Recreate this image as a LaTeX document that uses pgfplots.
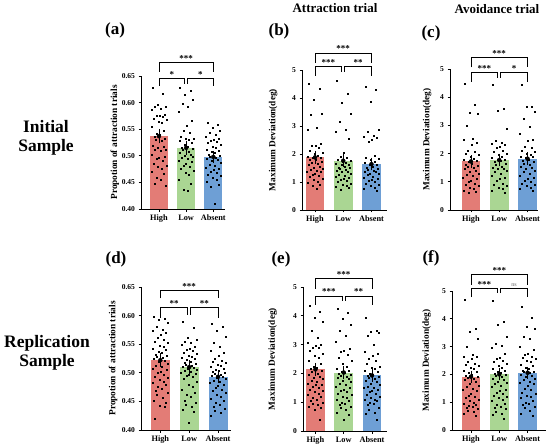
\documentclass[border=0pt]{standalone}
\usepackage{pgfplots}
\usepackage{pgfplotstable}
\pgfplotsset{compat=1.18}
\usepackage{fontspec}
\setmainfont{Liberation Serif}
\definecolor{cR}{HTML}{E37C76}
\definecolor{cG}{HTML}{AAD693}
\definecolor{cB}{HTML}{6E9FD5}

\pgfplotsset{
 panel/.style={
  scale only axis,
  axis x line*=bottom, axis y line*=left,
  axis line style={-, line width=0.9pt, black},
  tick style={black, line width=0.8pt},
  tick align=outside,
  major tick length=2.5pt,
  xtick={0,1,2}, xticklabels={High,Low,Absent},
  ticklabel style={font=\bfseries\fontsize{7.5}{9}\selectfont},
  x tick label style={font=\bfseries\fontsize{8.3}{9}\selectfont},
  ylabel style={font=\bfseries\fontsize{9.3}{10}\selectfont, anchor=center},
  /pgf/number format/assume math mode=true,
  clip mode=individual,
 },
 prop/.style={ymin=0.40, ymax=0.65, ytick={0.40,0.45,0.50,0.55,0.60,0.65},
  yticklabel style={/pgf/number format/.cd, fixed, fixed zerofill, precision=2},
  ylabel={Propotion of attraction trials}},
 dev/.style={ymin=0, ymax=5, ytick={0,1,2,3,4,5}, ylabel={Maximum Deviation(deg)}},
 pts/.style={only marks, mark=square*, mark size=0.5pt, black},
 err/.style={only marks, mark=none, black, forget plot,
  error bars/.cd, y dir=both, y explicit,
  error bar style={black, line width=0.8pt},
  error mark options={black, line width=0.8pt, mark size=3pt}},
}
\newcommand{\brk}[5]{\draw[line width=0.8pt] ([yshift=-#4]axis cs:#1,#3) -- (axis cs:#1,#3) -- (axis cs:#2,#3) -- ([yshift=-#5]axis cs:#2,#3);}
\newcommand{\lab}[3]{\node[anchor=base, font=\bfseries\fontsize{9}{9}\selectfont, inner sep=0pt, yshift=1.2pt] at (axis cs:#1,#2) {#3};}
\newcommand{\bars}[3]{%
 \addplot[ybar, bar width=0.66, bar shift=0pt, fill=cR, draw=none] coordinates {(0,#1)};
 \addplot[ybar, bar width=0.66, bar shift=0pt, fill=cG, draw=none] coordinates {(1,#2)};
 \addplot[ybar, bar width=0.66, bar shift=0pt, fill=cB, draw=none] coordinates {(2,#3)};
}

\pgfplotstableread{
dx hi lo ab
-0.22 0.628 0.628 0.563
0.15 0.617 0.622 0.558
-0.04 0.596 0.615 0.552
0.25 0.593 0.605 0.548
-0.14 0.592 0.598 0.544
0.07 0.589 0.593 0.540
-0.27 0.587 0.582 0.536
0.20 0.577 0.566 0.533
0.01 0.576 0.556 0.531
-0.10 0.575 0.548 0.529
0.13 0.573 0.543 0.527
-0.19 0.570 0.536 0.524
0.27 0.567 0.533 0.521
-0.02 0.565 0.532 0.518
0.10 0.563 0.530 0.515
-0.25 0.555 0.528 0.512
0.19 0.547 0.524 0.510
-0.07 0.542 0.520 0.508
0.04 0.540 0.518 0.505
-0.17 0.536 0.515 0.503
0.23 0.533 0.513 0.501
-0.12 0.530 0.511 0.499
0.09 0.528 0.508 0.497
-0.23 0.519 0.505 0.495
0.16 0.517 0.503 0.492
-0.05 0.515 0.500 0.490
0.26 0.512 0.498 0.487
-0.15 0.511 0.496 0.484
0.06 0.509 0.494 0.481
-0.28 0.502 0.491 0.478
0.21 0.499 0.488 0.476
0.00 0.497 0.485 0.473
-0.09 0.494 0.482 0.470
0.12 0.490 0.480 0.468
-0.20 0.485 0.476 0.465
0.27 0.481 0.472 0.462
-0.03 0.479 0.468 0.458
0.11 0.476 0.465 0.455
-0.26 0.470 0.455 0.452
0.18 0.466 0.447 0.445
-0.08 0.458 0.437 0.442
0.05 0.455 0.435 0.410
-0.16 0.447 nan nan
0.24 0.443 nan nan
}\tA

\pgfplotstableread{
dx hi lo ab
-0.22 4.50 4.62 4.40
0.15 4.33 4.15 4.30
-0.04 3.93 3.82 3.88
0.25 3.45 3.45 2.85
-0.14 3.42 3.15 2.80
0.07 2.93 2.85 2.65
-0.27 2.88 2.80 2.62
0.20 2.35 2.55 2.58
0.01 2.30 2.05 2.52
-0.10 2.28 1.90 2.45
0.13 2.22 1.85 1.95
-0.19 2.10 1.80 1.88
0.27 2.05 1.75 1.82
-0.02 2.00 1.72 1.78
0.10 1.95 1.68 1.72
-0.25 1.92 1.65 1.68
0.19 1.88 1.62 1.62
-0.07 1.85 1.60 1.60
0.04 1.80 1.55 1.55
-0.17 1.78 1.52 1.52
0.23 1.72 1.50 1.48
-0.12 1.68 1.48 1.45
0.09 1.65 1.45 1.40
-0.23 1.60 1.40 1.38
0.16 1.55 1.38 1.35
-0.05 1.52 1.35 1.30
0.26 1.48 1.30 1.28
-0.15 1.45 1.25 1.25
0.06 1.42 1.22 1.20
-0.28 1.38 1.20 1.15
0.21 1.35 1.15 1.12
0.00 1.30 1.12 1.08
-0.09 1.25 1.08 1.05
0.12 1.22 1.05 1.00
-0.20 1.18 1.00 0.95
0.27 1.12 0.95 0.90
-0.03 1.08 0.92 0.85
0.11 1.02 0.88 0.80
-0.26 0.98 0.82 0.75
0.18 0.92 0.78 0.70
-0.08 0.85 0.72 nan
0.05 0.75 nan nan
}\tB

\pgfplotstableread{
dx hi lo ab
-0.22 4.48 4.45 4.45
0.15 3.75 3.60 3.65
-0.04 3.45 3.52 3.65
0.25 3.40 2.90 3.48
-0.14 3.00 2.45 3.25
0.07 2.52 2.40 2.95
-0.27 2.48 2.35 2.70
0.20 2.38 2.30 2.50
0.01 2.30 2.25 2.45
-0.10 2.10 2.20 2.25
0.13 2.05 2.10 2.20
-0.19 2.00 2.05 2.10
0.27 1.95 2.00 2.05
-0.02 1.88 1.95 2.00
0.10 1.82 1.90 1.95
-0.25 1.78 1.85 1.90
0.19 1.75 1.80 1.88
-0.07 1.70 1.78 1.85
0.04 1.65 1.75 1.80
-0.17 1.62 1.70 1.75
0.23 1.58 1.65 1.70
-0.12 1.55 1.60 1.65
0.09 1.50 1.55 1.60
-0.23 1.45 1.50 1.55
0.16 1.40 1.48 1.50
-0.05 1.35 1.45 1.45
0.26 1.30 1.40 1.40
-0.15 1.25 1.35 1.35
0.06 1.20 1.30 1.30
-0.28 1.15 1.20 1.20
0.21 1.10 1.15 1.15
0.00 1.05 1.10 1.10
-0.09 1.00 1.05 1.05
0.12 0.95 0.95 1.00
-0.20 0.90 0.90 0.95
0.27 0.85 0.85 0.90
-0.03 0.80 0.80 0.85
0.11 0.75 0.75 0.80
-0.26 0.70 0.70 0.75
0.18 0.65 0.62 0.70
-0.08 0.62 nan nan
}\tC

\pgfplotstableread{
dx hi lo ab
-0.22 0.598 0.590 0.585
0.15 0.595 0.578 0.580
-0.04 0.592 0.562 0.574
0.25 0.588 0.558 0.563
-0.14 0.580 0.555 0.552
0.07 0.575 0.552 0.545
-0.27 0.573 0.549 0.538
0.20 0.570 0.546 0.535
0.01 0.566 0.543 0.530
-0.10 0.562 0.540 0.525
0.13 0.558 0.538 0.522
-0.19 0.555 0.535 0.520
0.27 0.552 0.533 0.518
-0.02 0.548 0.530 0.515
0.10 0.545 0.528 0.512
-0.25 0.542 0.527 0.510
0.19 0.540 0.525 0.508
-0.07 0.537 0.523 0.505
0.04 0.535 0.520 0.503
-0.17 0.532 0.518 0.502
0.23 0.530 0.516 0.500
-0.12 0.528 0.515 0.499
0.09 0.526 0.513 0.497
-0.23 0.524 0.511 0.495
0.16 0.521 0.509 0.493
-0.05 0.519 0.508 0.491
0.26 0.516 0.506 0.489
-0.15 0.513 0.504 0.487
0.06 0.510 0.502 0.485
-0.28 0.508 0.500 0.482
0.21 0.505 0.498 0.480
0.00 0.502 0.496 0.477
-0.09 0.500 0.495 0.474
0.12 0.497 0.493 0.471
-0.20 0.494 0.490 0.468
0.27 0.491 0.485 0.465
-0.03 0.488 0.480 0.462
0.11 0.485 0.475 0.458
-0.26 0.482 0.470 0.455
0.18 0.479 0.466 0.452
-0.08 0.476 0.462 0.448
0.05 0.472 0.458 0.445
-0.16 0.468 0.452 0.441
0.24 0.465 0.448 0.438
-0.11 0.461 0.445 0.434
0.08 0.456 0.440 0.430
-0.24 0.452 0.435 0.425
0.17 0.448 0.432 nan
-0.01 0.443 0.413 nan
0.14 0.440 nan nan
-0.18 0.420 nan nan
}\tD

\pgfplotstableread{
dx hi lo ab
-0.22 4.35 4.25 3.92
0.15 4.15 4.10 3.50
-0.04 3.95 3.90 3.45
0.25 3.80 3.70 3.40
-0.14 3.50 3.50 3.30
0.07 3.25 3.30 3.00
-0.27 3.05 3.10 2.75
0.20 3.00 2.85 2.70
0.01 2.95 2.80 2.60
-0.10 2.90 2.75 2.50
0.13 2.88 2.65 2.45
-0.19 2.80 2.55 2.35
0.27 2.70 2.45 2.25
-0.02 2.60 2.35 2.20
0.10 2.55 2.25 2.15
-0.25 2.45 2.15 2.10
0.19 2.35 2.10 2.05
-0.07 2.25 2.05 2.00
0.04 2.20 2.02 1.95
-0.17 2.15 2.00 1.92
0.23 2.10 1.95 1.90
-0.12 2.05 1.92 1.85
0.09 2.00 1.90 1.80
-0.23 1.95 1.85 1.75
0.16 1.90 1.80 1.70
-0.05 1.85 1.75 1.65
0.26 1.80 1.70 1.60
-0.15 1.75 1.65 1.55
0.06 1.70 1.60 1.52
-0.28 1.65 1.55 1.50
0.21 1.62 1.50 1.45
0.00 1.60 1.45 1.40
-0.09 1.55 1.40 1.35
0.12 1.50 1.35 1.30
-0.20 1.45 1.30 1.25
0.27 1.40 1.25 1.20
-0.03 1.35 1.20 1.15
0.11 1.30 1.15 1.10
-0.26 1.25 1.10 1.08
0.18 1.20 1.05 1.05
-0.08 1.15 1.00 1.00
0.05 1.10 0.95 0.95
-0.16 1.05 0.90 0.90
0.24 1.00 0.85 0.80
-0.11 0.95 0.80 0.75
0.08 0.90 0.75 0.65
-0.24 0.85 0.65 0.60
0.17 0.80 0.55 0.40
-0.01 0.75 0.40 nan
0.14 0.40 nan nan
}\tE

\pgfplotstableread{
dx hi lo ab
-0.22 4.70 4.65 4.45
0.15 3.65 3.90 4.05
-0.04 3.55 3.78 3.70
0.25 3.30 3.35 3.65
-0.14 3.00 3.10 3.35
0.07 2.70 3.05 3.30
-0.27 2.65 2.95 3.00
0.20 2.62 2.75 2.90
0.01 2.55 2.60 2.75
-0.10 2.45 2.55 2.70
0.13 2.40 2.50 2.65
-0.19 2.35 2.45 2.60
0.27 2.30 2.40 2.55
-0.02 2.25 2.30 2.50
0.10 2.20 2.25 2.45
-0.25 2.15 2.20 2.35
0.19 2.10 2.15 2.30
-0.07 2.05 2.10 2.25
0.04 2.00 2.05 2.20
-0.17 1.95 2.02 2.15
0.23 1.90 2.00 2.10
-0.12 1.88 1.95 2.08
0.09 1.85 1.90 2.05
-0.23 1.80 1.85 2.00
0.16 1.72 1.80 1.95
-0.05 1.65 1.75 1.90
0.26 1.60 1.70 1.85
-0.15 1.55 1.65 1.80
0.06 1.50 1.60 1.75
-0.28 1.45 1.55 1.70
0.21 1.40 1.45 1.65
0.00 1.30 1.40 1.60
-0.09 1.25 1.35 1.50
0.12 1.20 1.30 1.45
-0.20 1.15 1.25 1.35
0.27 1.10 1.20 1.30
-0.03 1.05 1.15 1.25
0.11 1.00 1.10 1.20
-0.26 0.95 1.05 1.15
0.18 0.90 0.95 1.05
-0.08 0.88 0.90 1.00
0.05 0.85 0.85 0.95
-0.16 0.80 0.80 0.90
0.24 0.75 0.75 0.85
-0.11 0.70 0.65 0.80
0.08 0.65 0.60 0.70
-0.24 0.60 0.55 0.60
0.17 0.50 0.40 0.50
}\tF

\begin{document}
\begin{tikzpicture}[x=1pt,y=1pt]
\path[use as bounding box] (0,0) rectangle (550,448);

% ---------- (a)
\begin{axis}[panel, prop, at={(141pt,239pt)}, anchor=south west, width=84pt, height=133pt,
  xmin=-0.66, xmax=2.43, ylabel style={at={(axis description cs:-0.31,0.5)}}]
\bars{0.537}{0.515}{0.498}
\addplot[pts] table[x expr=\thisrow{dx}+0, y=hi] {\tA};
\addplot[pts] table[x expr=\thisrow{dx}+1, y=lo] {\tA};
\addplot[pts] table[x expr=\thisrow{dx}+2, y=ab] {\tA};
\addplot[err] coordinates {(0,0.537) +- (0,0.008) (1,0.515) +- (0,0.008) (2,0.498) +- (0,0.006)};
\brk{0}{2}{0.675}{9pt}{9pt}\lab{1}{0.675}{***}
\brk{0}{0.95}{0.645}{7pt}{5pt}\lab{0.475}{0.645}{*}
\brk{1.05}{2}{0.645}{5pt}{7pt}\lab{1.525}{0.645}{*}
\end{axis}

% ---------- (b)
\begin{axis}[panel, dev, at={(302pt,238pt)}, anchor=south west, width=85pt, height=140pt,
  xmin=-0.46, xmax=2.55, ylabel style={at={(axis description cs:-0.34,0.5)}}]
\bars{1.88}{1.76}{1.64}
\addplot[pts] table[x expr=\thisrow{dx}+0, y=hi] {\tB};
\addplot[pts] table[x expr=\thisrow{dx}+1, y=lo] {\tB};
\addplot[pts] table[x expr=\thisrow{dx}+2, y=ab] {\tB};
\addplot[err] coordinates {(0,1.88) +- (0,0.13) (1,1.76) +- (0,0.12) (2,1.64) +- (0,0.12)};
\brk{0}{2}{5.6}{10pt}{10pt}\lab{1}{5.6}{***}
\brk{0}{0.95}{5.12}{9pt}{5pt}\lab{0.475}{5.12}{***}
\brk{1.05}{2}{5.12}{5pt}{9pt}\lab{1.525}{5.12}{**}
\end{axis}

% ---------- (c)
\begin{axis}[panel, dev, at={(450pt,238pt)}, anchor=south west, width=88pt, height=141pt,
  xmin=-0.74, xmax=2.37, ylabel style={at={(axis description cs:-0.26,0.5)}}]
\bars{1.72}{1.77}{1.82}
\addplot[pts] table[x expr=\thisrow{dx}+0, y=hi] {\tC};
\addplot[pts] table[x expr=\thisrow{dx}+1, y=lo] {\tC};
\addplot[pts] table[x expr=\thisrow{dx}+2, y=ab] {\tC};
\addplot[err] coordinates {(0,1.72) +- (0,0.12) (1,1.77) +- (0,0.12) (2,1.82) +- (0,0.12)};
\brk{0}{2}{5.41}{10pt}{10pt}\lab{1}{5.41}{***}
\brk{0}{0.95}{4.87}{9pt}{5pt}\lab{0.475}{4.87}{***}
\brk{1.05}{2}{4.87}{5pt}{9pt}\lab{1.525}{4.87}{*}
\end{axis}

% ---------- (d)
\begin{axis}[panel, prop, at={(141pt,18pt)}, anchor=south west, width=90pt, height=143pt,
  xmin=-0.67, xmax=2.45, ylabel style={at={(axis description cs:-0.31,0.5)}}]
\bars{0.522}{0.510}{0.493}
\addplot[pts] table[x expr=\thisrow{dx}+0, y=hi] {\tD};
\addplot[pts] table[x expr=\thisrow{dx}+1, y=lo] {\tD};
\addplot[pts] table[x expr=\thisrow{dx}+2, y=ab] {\tD};
\addplot[err] coordinates {(0,0.522) +- (0,0.007) (1,0.510) +- (0,0.007) (2,0.493) +- (0,0.005)};
\brk{0}{2}{0.644}{8pt}{8pt}\lab{1}{0.644}{***}
\brk{0}{0.95}{0.614}{10pt}{7pt}\lab{0.475}{0.614}{**}
\brk{1.05}{2}{0.614}{7pt}{10pt}\lab{1.525}{0.614}{**}
\end{axis}

% ---------- (e)
\begin{axis}[panel, dev, at={(303pt,17pt)}, anchor=south west, width=84pt, height=144pt,
  xmin=-0.44, xmax=2.53, ylabel style={at={(axis description cs:-0.36,0.5)}}]
\bars{2.14}{2.03}{1.93}
\addplot[pts] table[x expr=\thisrow{dx}+0, y=hi] {\tE};
\addplot[pts] table[x expr=\thisrow{dx}+1, y=lo] {\tE};
\addplot[pts] table[x expr=\thisrow{dx}+2, y=ab] {\tE};
\addplot[err] coordinates {(0,2.14) +- (0,0.12) (1,2.03) +- (0,0.11) (2,1.93) +- (0,0.11)};
\brk{0}{2}{5.29}{10pt}{10pt}\lab{1}{5.29}{***}
\brk{0}{0.95}{4.69}{9pt}{5pt}\lab{0.475}{4.69}{***}
\brk{1.05}{2}{4.69}{5pt}{9pt}\lab{1.525}{4.69}{**}
\end{axis}

% ---------- (f)
\begin{axis}[panel, dev, at={(452pt,18pt)}, anchor=south west, width=94pt, height=139pt,
  xmin=-0.67, xmax=2.65, ylabel style={at={(axis description cs:-0.27,0.5)}}]
\bars{1.92}{2.00}{2.06}
\addplot[pts] table[x expr=\thisrow{dx}+0, y=hi] {\tF};
\addplot[pts] table[x expr=\thisrow{dx}+1, y=lo] {\tF};
\addplot[pts] table[x expr=\thisrow{dx}+2, y=ab] {\tF};
\addplot[err] coordinates {(0,1.92) +- (0,0.11) (1,2.00) +- (0,0.11) (2,2.06) +- (0,0.11)};
\brk{0}{2}{5.58}{10pt}{10pt}\lab{1}{5.58}{***}
\brk{0}{0.95}{5.1}{9pt}{5pt}\lab{0.475}{5.1}{***}
\brk{1.05}{2}{5.1}{5pt}{9pt}
\node[anchor=base, font=\fontsize{6}{6}\selectfont, text=black!60, inner sep=0pt, yshift=2pt] at (axis cs:1.525,5.1) {ns};
\end{axis}

% ---------- titles
\node[font=\bfseries\fontsize{17}{19}\selectfont] at (115,418) {(a)};
\node[font=\bfseries\fontsize{17}{19}\selectfont] at (279,417) {(b)};
\node[font=\bfseries\fontsize{17}{19}\selectfont] at (431,415) {(c)};
\node[font=\bfseries\fontsize{17}{19}\selectfont] at (116,189) {(d)};
\node[font=\bfseries\fontsize{17}{19}\selectfont] at (281,189) {(e)};
\node[font=\bfseries\fontsize{17}{19}\selectfont] at (431,190) {(f)};
\node[font=\bfseries\fontsize{13}{15}\selectfont] at (335,440) {Attraction trial};
\node[font=\bfseries\fontsize{13}{15}\selectfont] at (497,439) {Avoidance trial};
\node[font=\bfseries\fontsize{17.5}{19}\selectfont, align=center] at (46,310) {Initial\\Sample};
\node[font=\bfseries\fontsize{17.5}{19}\selectfont, align=center] at (47,95) {Replication\\Sample};
\end{tikzpicture}
\end{document}
